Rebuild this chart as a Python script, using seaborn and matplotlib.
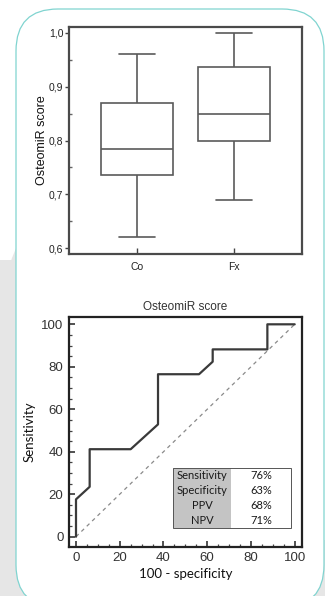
import numpy as np
import pandas as pd
import seaborn as sns
import matplotlib.pyplot as plt
from matplotlib.patches import FancyBboxPatch, Rectangle, Ellipse
from matplotlib.ticker import MultipleLocator

# Box plot data (five-number summaries)
groups = ["Co", "Fx"]
co_scores = [0.62, 0.735, 0.785, 0.87, 0.96]
fx_scores = [0.69, 0.80, 0.85, 0.937, 1.00]
score_ticks = [0.6, 0.7, 0.8, 0.9, 1.0]
score_ticklabels = ["0,6", "0,7", "0,8", "0,9", "1,0"]

# ROC curve
fpr = [0, 0, 6.25, 6.25, 25, 37.5, 37.5, 56.25, 62.5, 62.5, 87.5, 87.5, 100]
tpr = [0, 17.6, 23.5, 41.2, 41.2, 52.9, 76.5, 76.5, 82.4, 88.2, 88.2, 100, 100]
chance = [0, 100]
roc_ticks = [0, 20, 40, 60, 80, 100]

# Performance table
metrics = ["Sensitivity", "Specificity", "PPV", "NPV"]
metric_values = ["76%", "63%", "68%", "71%"]

sns.set_style("white")
W, H = 325, 596
fig = plt.figure(figsize=(W / 100, H / 100), dpi=100)

# background card
bg = fig.add_axes([0, 0, 1, 1], zorder=-10)
bg.set_xlim(0, W)
bg.set_ylim(H, 0)
bg.axis("off")
gray = "#e6e6e6"
bg.add_patch(Rectangle((0, 260), 30, 340, color=gray, lw=0))
bg.add_patch(Ellipse((60, 330), 120, 240, color=gray, lw=0))
bg.add_patch(Rectangle((270, 540), 60, 60, color=gray, lw=0))
bg.add_patch(FancyBboxPatch((16 + 42, 9 + 42), 308 - 84, 598 - 84,
                            boxstyle="round,pad=42", fc="white",
                            ec="#80d4d0", lw=0.9))

# ---- box plot ----
ax1 = fig.add_axes([69 / W, 1 - 254 / H, 233 / W, 227 / H])
df = pd.DataFrame({"group": np.repeat(groups, 5),
                   "score": co_scores + fx_scores})
sns.boxplot(data=df, x="group", y="score", whis=(0, 100), width=0.75,
            color="white", linecolor="#5a5a5a", linewidth=1.2, ax=ax1)
ax1.set_xlim(-0.7, 1.7)
ax1.set_ylim(0.589, 1.011)
narrow = ["Liberation Sans Narrow", "Liberation Sans"]
ax1.set_yticks(score_ticks)
ax1.set_yticklabels(score_ticklabels, family=narrow, fontsize=7.5, color="#222")
ax1.set_xticks(range(len(groups)))
ax1.set_xticklabels(groups, family=narrow, fontsize=7.5, color="#222")
ax1.yaxis.set_minor_locator(MultipleLocator(0.05))
ax1.tick_params(axis="y", which="major", direction="out", length=3,
                width=1, color="#444", pad=1, left=True)
ax1.tick_params(axis="y", which="minor", direction="in", length=2,
                width=1, color="#666", left=True)
ax1.tick_params(axis="x", which="major", direction="in", length=4,
                width=1, color="#444", pad=6, bottom=True)
ax1.set_xlabel("")
ax1.set_ylabel("OsteomiR score", family="Liberation Sans", fontsize=9,
               color="#111", labelpad=1)
for s in ax1.spines.values():
    s.set_linewidth(1.6)
    s.set_color("#4a4a4a")

# ---- ROC curve ----
ax2 = fig.add_axes([69 / W, 1 - 546.7 / H, 232.7 / W, 229.4 / H])
sns.lineplot(x=chance, y=chance, color="#8a8a8a", lw=0.9,
             linestyle=(0, (3, 3)), ax=ax2)
sns.lineplot(x=fpr, y=tpr, sort=False, estimator=None, color="#3a3a3a",
             lw=1.6, ax=ax2)
ax2.set_xlim(-3.2, 103.2)
ax2.set_ylim(-4.7, 103.3)
ax2.set_xticks(roc_ticks)
ax2.set_yticks(roc_ticks)
ax2.xaxis.set_minor_locator(MultipleLocator(5))
ax2.yaxis.set_minor_locator(MultipleLocator(5))
ax2.tick_params(which="major", direction="in", length=4, width=1.1,
                color="#222", labelsize=9.5, labelcolor="#333",
                bottom=True, left=True, pad=4)
ax2.tick_params(which="minor", direction="in", length=2, width=0.9,
                color="#444", bottom=True, left=True)
for lab in ax2.get_xticklabels() + ax2.get_yticklabels():
    lab.set_family("Liberation Sans")
ax2.set_title("OsteomiR score", family="Liberation Sans", fontsize=8.5,
              color="#333", pad=5)
ax2.set_xlabel("100 - specificity", family="Lato", fontsize=9.5,
               color="#111", labelpad=3)
ax2.set_ylabel("Sensitivity", family="Lato", fontsize=9.5, color="#111",
               labelpad=4)
for s in ax2.spines.values():
    s.set_linewidth(1.6)
    s.set_color("#222")

cells = [[m, v] for m, v in zip(metrics, metric_values)]
colours = [["#c4c4c4", "white"] for _ in metrics]
tbl = ax2.table(cellText=cells, cellColours=colours, cellLoc="center",
                bbox=[0.446, 0.083, 0.508, 0.262], colWidths=[0.493, 0.507])
tbl.auto_set_font_size(False)
for (r, c), cell in tbl.get_celld().items():
    cell.set_linewidth(0)
    cell.get_text().set_fontsize(8)
    cell.get_text().set_family("Lato")
    cell.get_text().set_color("#1a1a1a")
ax2.add_patch(Rectangle((0.446, 0.083), 0.508, 0.262, transform=ax2.transAxes,
                        fill=False, ec="#555", lw=0.7, zorder=5))

fig.savefig("out.png", dpi=100)
